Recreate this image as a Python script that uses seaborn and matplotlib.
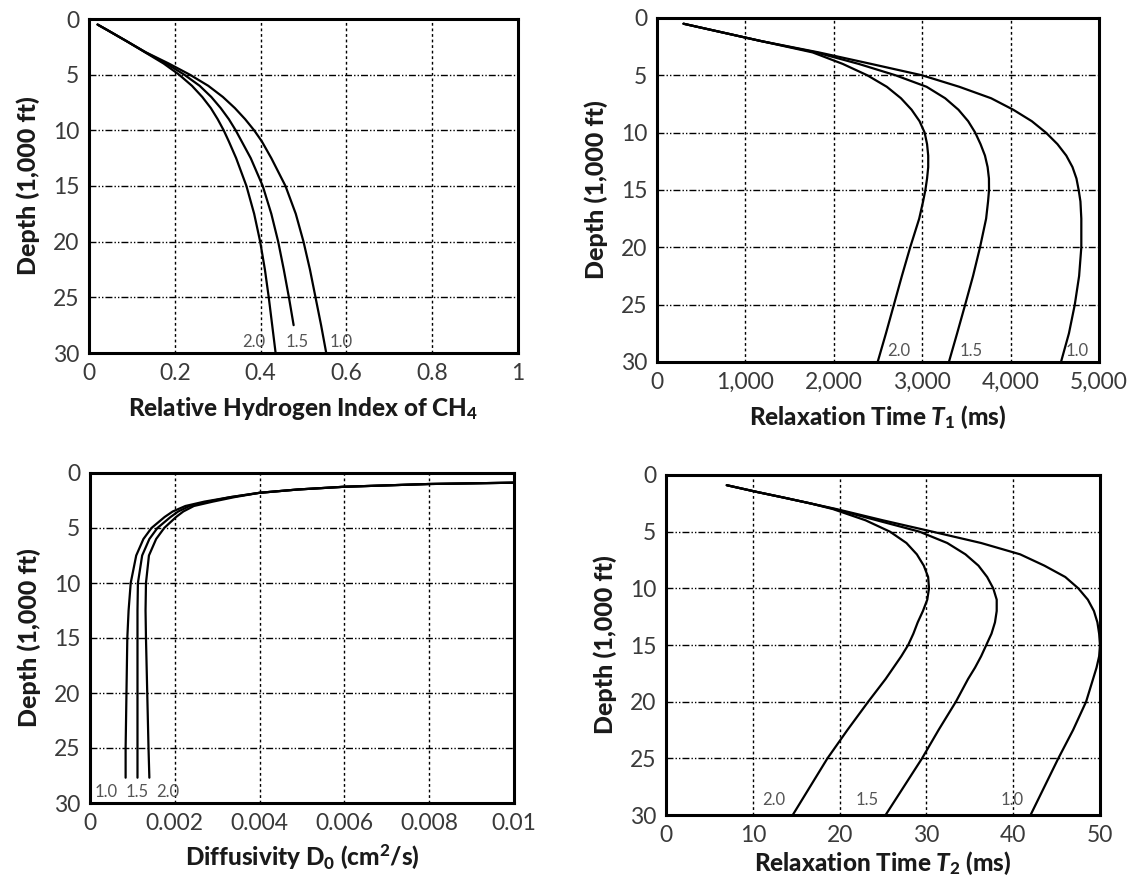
import matplotlib
matplotlib.use("Agg")
import numpy as np
import pandas as pd
import matplotlib.pyplot as plt
import seaborn as sns

# ---------------- data ----------------
ratios = ["1.0", "1.5", "2.0"]
depth_ticks = [0, 5, 10, 15, 20, 25, 30]

# Relative hydrogen index of CH4
hi_depth = [0.5, 1, 2, 3, 4, 5, 6, 7, 8, 9, 10, 11, 12.5, 15, 17.5, 20, 22.5, 25, 27.5, 30]
hi_depth_15 = [0.5, 1, 2, 3, 4, 5, 6, 7, 8, 9, 10, 11, 12.5, 15, 17.5, 20, 22.5, 25, 27.5]
hi_10 = [0.02, 0.043, 0.088, 0.133, 0.186, 0.235, 0.278, 0.312, 0.340, 0.364, 0.385, 0.403, 0.425, 0.458, 0.482, 0.500, 0.515, 0.528, 0.541, 0.553]
hi_15 = [0.02, 0.043, 0.088, 0.132, 0.180, 0.222, 0.258, 0.285, 0.307, 0.326, 0.342, 0.356, 0.377, 0.405, 0.425, 0.441, 0.454, 0.466, 0.477]
hi_20 = [0.02, 0.043, 0.088, 0.131, 0.174, 0.210, 0.240, 0.264, 0.284, 0.300, 0.314, 0.326, 0.343, 0.367, 0.385, 0.399, 0.410, 0.419, 0.427, 0.435]
hi_xticks = [0, 0.2, 0.4, 0.6, 0.8, 1.0]
hi_xticklabels = ["0", "0.2", "0.4", "0.6", "0.8", "1"]

# Relaxation time T1 (ms)
t1_depth = [0.5, 1, 2, 3, 4, 5, 6, 7, 8, 9, 10, 11, 12, 13, 14, 15, 16, 17.5, 20, 22.5, 25, 27.5, 30]
t1_10 = [300, 590, 1170, 1830, 2420, 3000, 3420, 3780, 4030, 4240, 4400, 4530, 4630, 4700, 4745, 4770, 4790, 4800, 4800, 4775, 4726, 4660, 4570]
t1_15 = [300, 590, 1170, 1800, 2280, 2700, 3050, 3260, 3410, 3520, 3600, 3660, 3710, 3740, 3755, 3756, 3745, 3723, 3654, 3575, 3486, 3395, 3302]
t1_20 = [300, 590, 1170, 1760, 2100, 2380, 2600, 2760, 2880, 2970, 3028, 3055, 3068, 3068, 3055, 3036, 3010, 2966, 2864, 2770, 2680, 2590, 2496]
t1_xticks = [0, 1000, 2000, 3000, 4000, 5000]
t1_xticklabels = ["0", "1,000", "2,000", "3,000", "4,000", "5,000"]

# Diffusivity D0 (cm2/s)
d_depth = [0.88, 1.0, 1.25, 1.5, 1.8, 2.2, 2.6, 3.0, 3.5, 4.0, 5.0, 6.0, 7.5, 10, 12.5, 15, 20, 25, 27.7]
d_10 = [0.0100, 0.0080, 0.0060, 0.0049, 0.0040, 0.0033, 0.0027, 0.00225, 0.00195, 0.00176, 0.00145, 0.00126, 0.00109, 0.00096, 0.00091, 0.00088, 0.00086, 0.00084, 0.00084]
d_15 = [0.0100, 0.0080, 0.0060, 0.0049, 0.0040, 0.0033, 0.0028, 0.00235, 0.00208, 0.00190, 0.00159, 0.00140, 0.00123, 0.00113, 0.00112, 0.00112, 0.00112, 0.00112, 0.00112]
d_20 = [0.0100, 0.0080, 0.0060, 0.0049, 0.0040, 0.0034, 0.0029, 0.00245, 0.00220, 0.00203, 0.00175, 0.00156, 0.00139, 0.00132, 0.00131, 0.00132, 0.00135, 0.00138, 0.00140]
d_xticks = [0, 0.002, 0.004, 0.006, 0.008, 0.01]
d_xticklabels = ["0", "0.002", "0.004", "0.006", "0.008", "0.01"]

# Relaxation time T2 (ms)
t2_depth = [0.9, 1.5, 2, 2.5, 3, 4, 5, 6, 7, 8, 9, 10, 11, 12, 13, 14, 15, 16, 17, 18, 20, 22.5, 25, 27.5, 30]
t2_10 = [7, 10.5, 13.6, 16.6, 19.6, 25.0, 30.7, 36.3, 40.8, 43.6, 46.0, 47.5, 48.6, 49.3, 49.7, 49.9, 50.0, 49.9, 49.6, 49.2, 48.4, 46.9, 45.2, 43.6, 42.0]
t2_15 = [7, 10.5, 13.6, 16.6, 19.4, 24.3, 29.2, 32.4, 34.5, 36.0, 37.0, 37.7, 38.1, 38.1, 37.9, 37.5, 36.9, 36.3, 35.6, 34.8, 33.4, 31.4, 29.5, 27.4, 25.3]
t2_20 = [7, 10.5, 13.6, 16.6, 19.2, 23.0, 25.8, 27.7, 28.9, 29.7, 30.2, 30.3, 30.1, 29.6, 29.0, 28.5, 27.9, 27.1, 26.2, 25.3, 23.3, 20.9, 18.6, 16.6, 14.6]
t2_xticks = [0, 10, 20, 30, 40, 50]
t2_xticklabels = ["0", "10", "20", "30", "40", "50"]

# curve label anchors (value, depth)
hi_lab = {"2.0": (0.358, 29), "1.5": (0.458, 29), "1.0": (0.560, 29)}
t1_lab = {"2.0": (2600, 29), "1.5": (3420, 29), "1.0": (4620, 29)}
d_lab = {"1.0": (0.0001, 29), "1.5": (0.00085, 29), "2.0": (0.00156, 29)}
t2_lab = {"2.0": (11.1, 28.7), "1.5": (21.9, 28.7), "1.0": (38.6, 28.7)}

# ---------------- style ----------------
sns.set_theme(style="white")
plt.rcParams['font.family'] = ['Lato', 'DejaVu Sans']
plt.rcParams['mathtext.fontset'] = 'custom'
plt.rcParams['mathtext.rm'] = 'Lato:black'
plt.rcParams['mathtext.it'] = 'Lato:black:italic'
plt.rcParams['mathtext.bf'] = 'Lato:black'

W, H = 1135, 881
fig = plt.figure(figsize=(W / 100, H / 100), dpi=100)
fig.patch.set_facecolor("white")


def rect(x0, y0, x1, y1):
    return [x0 / W, 1 - y1 / H, (x1 - x0) / W, (y1 - y0) / H]


def make_df(parts):
    frames = []
    for r, (dep, vals) in parts.items():
        frames.append(pd.DataFrame({"ratio": r, "depth": dep, "value": vals}))
    return pd.concat(frames, ignore_index=True)


def panel(box, df, xlim, xticks, xticklabels, xlabel, labels, xlabelpad=8):
    ax = fig.add_axes(box)
    sns.lineplot(data=df, x="value", y="depth", hue="ratio", units="ratio",
                 palette=["black"] * 3, sort=False, estimator=None,
                 legend=False, ax=ax, linewidth=1.6, zorder=3)
    ax.set_xlim(*xlim)
    ax.set_ylim(30, 0)
    ax.set_xticks(xticks)
    ax.set_xticklabels(xticklabels)
    ax.set_yticks(depth_ticks)
    ax.set_yticklabels([str(v) for v in depth_ticks])
    ax.tick_params(length=0, labelsize=16.5, labelcolor="#3a3a3a", pad=7)
    ax.xaxis.grid(True, color="black", linestyle=(0, (2, 2)), linewidth=1.0)
    ax.yaxis.grid(True, color="black", linestyle=(0, (5, 1.5, 1, 1.5, 1, 1.5)), linewidth=1.0)
    for s in ax.spines.values():
        s.set_color("black")
        s.set_linewidth(2.2)
        s.set_zorder(5)
    ax.set_xlabel(xlabel, fontsize=17.5, fontweight="black", color="#1a1a1a", labelpad=xlabelpad)
    ax.set_ylabel("Depth (1,000 ft)", fontsize=18, fontweight="black", color="#1a1a1a", labelpad=9)
    for txt, (xv, yv) in labels.items():
        ax.text(xv, yv, txt, fontsize=12, color="#555555", ha="left", va="center", zorder=4)
    return ax


panel(rect(89, 19, 518, 353),
      make_df({"1.0": (hi_depth, hi_10), "1.5": (hi_depth_15, hi_15), "2.0": (hi_depth, hi_20)}),
      (0, 1), hi_xticks, hi_xticklabels, "Relative Hydrogen Index of CH$_4$", hi_lab)

panel(rect(657, 18, 1099, 362),
      make_df({"1.0": (t1_depth, t1_10), "1.5": (t1_depth, t1_15), "2.0": (t1_depth, t1_20)}),
      (0, 5000), t1_xticks, t1_xticklabels, "Relaxation Time $\\mathit{T}_1$ (ms)", t1_lab)

panel(rect(90, 473, 514, 803),
      make_df({"1.0": (d_depth, d_10), "1.5": (d_depth, d_15), "2.0": (d_depth, d_20)}),
      (0, 0.01), d_xticks, d_xticklabels, "Diffusivity D$_0$ (cm$^2$/s)", d_lab, xlabelpad=6)

panel(rect(666, 475, 1100, 815),
      make_df({"1.0": (t2_depth, t2_10), "1.5": (t2_depth, t2_15), "2.0": (t2_depth, t2_20)}),
      (0, 50), t2_xticks, t2_xticklabels, "Relaxation Time $\\mathit{T}_2$ (ms)", t2_lab, xlabelpad=3)

fig.savefig("out.png", dpi=100, facecolor="white")
